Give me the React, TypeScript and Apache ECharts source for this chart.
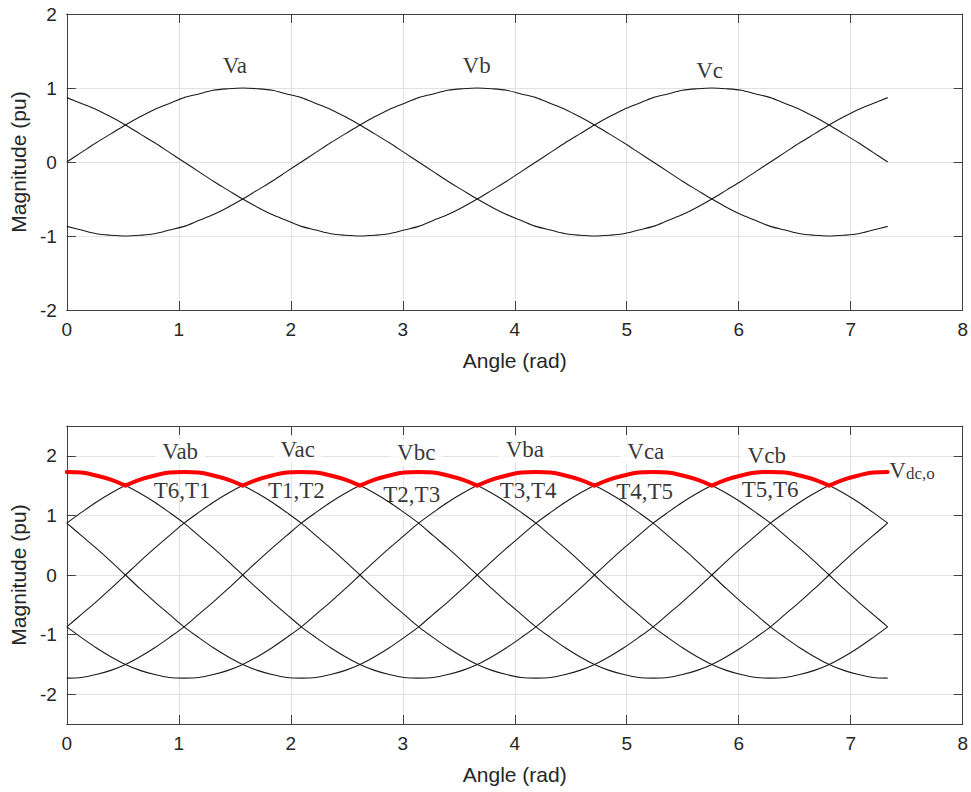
import React, { useEffect, useRef } from "react";
import * as echarts from "echarts";

// Sample angles (rad), read every 7.5 degrees from 0 to 7.33 rad
const angle = [
  0, 0.131, 0.262, 0.393, 0.524, 0.654, 0.785, 0.916, 1.047, 1.178, 1.309, 1.44,
  1.571, 1.702, 1.833, 1.963, 2.094, 2.225, 2.356, 2.487, 2.618, 2.749, 2.88, 3.011,
  3.142, 3.272, 3.403, 3.534, 3.665, 3.796, 3.927, 4.058, 4.189, 4.32, 4.451, 4.581,
  4.712, 4.843, 4.974, 5.105, 5.236, 5.367, 5.498, 5.629, 5.76, 5.89, 6.021, 6.152,
  6.283, 6.414, 6.545, 6.676, 6.807, 6.938, 7.069, 7.199, 7.33,
];

// Phase voltages (top plot)
const va = [
  0, 0.13, 0.26, 0.38, 0.5, 0.61, 0.71, 0.79, 0.87, 0.92, 0.97, 0.99,
  1, 0.99, 0.97, 0.92, 0.87, 0.79, 0.71, 0.61, 0.5, 0.38, 0.26, 0.13,
  0, -0.13, -0.26, -0.38, -0.5, -0.61, -0.71, -0.79, -0.87, -0.92, -0.97, -0.99,
  -1, -0.99, -0.97, -0.92, -0.87, -0.79, -0.71, -0.61, -0.5, -0.38, -0.26, -0.13,
  0, 0.13, 0.26, 0.38, 0.5, 0.61, 0.71, 0.79, 0.87,
];
const vb = [
  -0.87, -0.92, -0.97, -0.99, -1, -0.99, -0.97, -0.92, -0.87, -0.79, -0.71, -0.61,
  -0.5, -0.38, -0.26, -0.13, 0, 0.13, 0.26, 0.38, 0.5, 0.61, 0.71, 0.79,
  0.87, 0.92, 0.97, 0.99, 1, 0.99, 0.97, 0.92, 0.87, 0.79, 0.71, 0.61,
  0.5, 0.38, 0.26, 0.13, 0, -0.13, -0.26, -0.38, -0.5, -0.61, -0.71, -0.79,
  -0.87, -0.92, -0.97, -0.99, -1, -0.99, -0.97, -0.92, -0.87,
];
const vc = [
  0.87, 0.79, 0.71, 0.61, 0.5, 0.38, 0.26, 0.13, 0, -0.13, -0.26, -0.38,
  -0.5, -0.61, -0.71, -0.79, -0.87, -0.92, -0.97, -0.99, -1, -0.99, -0.97, -0.92,
  -0.87, -0.79, -0.71, -0.61, -0.5, -0.38, -0.26, -0.13, 0, 0.13, 0.26, 0.38,
  0.5, 0.61, 0.71, 0.79, 0.87, 0.92, 0.97, 0.99, 1, 0.99, 0.97, 0.92,
  0.87, 0.79, 0.71, 0.61, 0.5, 0.38, 0.26, 0.13, 0,
];

// Line voltages (bottom plot)
const vab = [
  0.87, 1.05, 1.22, 1.37, 1.5, 1.6, 1.67, 1.72, 1.73, 1.72, 1.67, 1.6,
  1.5, 1.37, 1.22, 1.05, 0.87, 0.66, 0.45, 0.23, 0, -0.23, -0.45, -0.66,
  -0.87, -1.05, -1.22, -1.37, -1.5, -1.6, -1.67, -1.72, -1.73, -1.72, -1.67, -1.6,
  -1.5, -1.37, -1.22, -1.05, -0.87, -0.66, -0.45, -0.23, 0, 0.23, 0.45, 0.66,
  0.87, 1.05, 1.22, 1.37, 1.5, 1.6, 1.67, 1.72, 1.73,
];
const vba = [
  -0.87, -1.05, -1.22, -1.37, -1.5, -1.6, -1.67, -1.72, -1.73, -1.72, -1.67, -1.6,
  -1.5, -1.37, -1.22, -1.05, -0.87, -0.66, -0.45, -0.23, 0, 0.23, 0.45, 0.66,
  0.87, 1.05, 1.22, 1.37, 1.5, 1.6, 1.67, 1.72, 1.73, 1.72, 1.67, 1.6,
  1.5, 1.37, 1.22, 1.05, 0.87, 0.66, 0.45, 0.23, 0, -0.23, -0.45, -0.66,
  -0.87, -1.05, -1.22, -1.37, -1.5, -1.6, -1.67, -1.72, -1.73,
];
const vac = [
  -0.87, -0.66, -0.45, -0.23, 0, 0.23, 0.45, 0.66, 0.87, 1.05, 1.22, 1.37,
  1.5, 1.6, 1.67, 1.72, 1.73, 1.72, 1.67, 1.6, 1.5, 1.37, 1.22, 1.05,
  0.87, 0.66, 0.45, 0.23, 0, -0.23, -0.45, -0.66, -0.87, -1.05, -1.22, -1.37,
  -1.5, -1.6, -1.67, -1.72, -1.73, -1.72, -1.67, -1.6, -1.5, -1.37, -1.22, -1.05,
  -0.87, -0.66, -0.45, -0.23, 0, 0.23, 0.45, 0.66, 0.87,
];
const vca = [
  0.87, 0.66, 0.45, 0.23, 0, -0.23, -0.45, -0.66, -0.87, -1.05, -1.22, -1.37,
  -1.5, -1.6, -1.67, -1.72, -1.73, -1.72, -1.67, -1.6, -1.5, -1.37, -1.22, -1.05,
  -0.87, -0.66, -0.45, -0.23, 0, 0.23, 0.45, 0.66, 0.87, 1.05, 1.22, 1.37,
  1.5, 1.6, 1.67, 1.72, 1.73, 1.72, 1.67, 1.6, 1.5, 1.37, 1.22, 1.05,
  0.87, 0.66, 0.45, 0.23, 0, -0.23, -0.45, -0.66, -0.87,
];
const vbc = [
  -1.73, -1.72, -1.67, -1.6, -1.5, -1.37, -1.22, -1.05, -0.87, -0.66, -0.45, -0.23,
  0, 0.23, 0.45, 0.66, 0.87, 1.05, 1.22, 1.37, 1.5, 1.6, 1.67, 1.72,
  1.73, 1.72, 1.67, 1.6, 1.5, 1.37, 1.22, 1.05, 0.87, 0.66, 0.45, 0.23,
  0, -0.23, -0.45, -0.66, -0.87, -1.05, -1.22, -1.37, -1.5, -1.6, -1.67, -1.72,
  -1.73, -1.72, -1.67, -1.6, -1.5, -1.37, -1.22, -1.05, -0.87,
];
const vcb = [
  1.73, 1.72, 1.67, 1.6, 1.5, 1.37, 1.22, 1.05, 0.87, 0.66, 0.45, 0.23,
  0, -0.23, -0.45, -0.66, -0.87, -1.05, -1.22, -1.37, -1.5, -1.6, -1.67, -1.72,
  -1.73, -1.72, -1.67, -1.6, -1.5, -1.37, -1.22, -1.05, -0.87, -0.66, -0.45, -0.23,
  0, 0.23, 0.45, 0.66, 0.87, 1.05, 1.22, 1.37, 1.5, 1.6, 1.67, 1.72,
  1.73, 1.72, 1.67, 1.6, 1.5, 1.37, 1.22, 1.05, 0.87,
];
// DC output envelope (red)
const vdc = [
  1.73, 1.72, 1.67, 1.6, 1.5, 1.6, 1.67, 1.72,
  1.73, 1.72, 1.67, 1.6, 1.5, 1.6, 1.67, 1.72,
  1.73, 1.72, 1.67, 1.6, 1.5, 1.6, 1.67, 1.72,
  1.73, 1.72, 1.67, 1.6, 1.5, 1.6, 1.67, 1.72,
  1.73, 1.72, 1.67, 1.6, 1.5, 1.6, 1.67, 1.72,
  1.73, 1.72, 1.67, 1.6, 1.5, 1.6, 1.67, 1.72,
  1.73, 1.72, 1.67, 1.6, 1.5, 1.6, 1.67, 1.72,
  1.73,
];

// Annotation texts and their data positions
const phaseLabelText = ["Va", "Vb", "Vc"];
const phaseLabelX = [1.5, 3.66, 5.74];
const phaseLabelY = [1.3, 1.3, 1.24];

const lineLabelText = ["Vab", "Vac", "Vbc", "Vba", "Vca", "Vcb"];
const lineLabelX = [1.013, 2.062, 3.12, 4.09, 5.17, 6.25];
const lineLabelY = [2.07, 2.1, 2.05, 2.1, 2.08, 2.0];

const switchLabelText = ["T6,T1", "T1,T2", "T2,T3", "T3,T4", "T4,T5", "T5,T6"];
const switchLabelX = [1.03, 2.05, 3.08, 4.12, 5.16, 6.28];
const switchLabelY = [1.41, 1.41, 1.35, 1.41, 1.4, 1.43];

const dcLabelX = 7.34;
const dcLabelY = 1.76;

const xTicks = { min: 0, max: 8, interval: 1 };

function pairs(ys: number[]) {
  return angle.map((x, i) => [x, ys[i]]);
}

// Envelope: split into arcs at its cusps (local minima) so each arc is smoothed alone
function envelopeArcs(ys: number[]) {
  const out: any[] = [];
  for (let i = 0; i < ys.length; i++) {
    out.push([angle[i], ys[i]]);
    const isCusp = i > 0 && i < ys.length - 1 && ys[i] < ys[i - 1] && ys[i] < ys[i + 1];
    if (isCusp) {
      out.push([angle[i], "-"]);
      out.push([angle[i], ys[i]]);
    }
  }
  return out;
}

const AXIS_COLOR = "#404040";
const TEXT_COLOR = "#262626";
const GRID_COLOR = "#e2e2e2";
const SANS = "Liberation Sans, Arial, sans-serif";
const SERIF = "Liberation Serif, Times New Roman, serif";

function mainX(gridIndex: number) {
  return {
    type: "value",
    gridIndex,
    position: "bottom",
    ...xTicks,
    name: "Angle (rad)",
    nameLocation: "middle",
    nameGap: 40,
    nameTextStyle: { fontFamily: SANS, fontSize: 21, color: TEXT_COLOR },
    axisLine: { show: true, onZero: false, lineStyle: { color: AXIS_COLOR, width: 1 } },
    axisTick: { show: true, inside: true, length: 9, lineStyle: { color: AXIS_COLOR } },
    axisLabel: { fontFamily: SANS, fontSize: 19, color: TEXT_COLOR, margin: 10 },
    splitLine: { show: true, lineStyle: { color: GRID_COLOR, width: 1 } },
  };
}
function topX(gridIndex: number) {
  return {
    type: "value",
    gridIndex,
    position: "top",
    ...xTicks,
    axisLine: { show: true, onZero: false, lineStyle: { color: AXIS_COLOR, width: 1 } },
    axisTick: { show: true, inside: true, length: 9, lineStyle: { color: AXIS_COLOR } },
    axisLabel: { show: false },
    splitLine: { show: false },
  };
}
function mainY(gridIndex: number, range: any) {
  return {
    type: "value",
    gridIndex,
    position: "left",
    ...range,
    name: "Magnitude (pu)",
    nameLocation: "middle",
    nameGap: 35,
    nameTextStyle: { fontFamily: SANS, fontSize: 21, color: TEXT_COLOR },
    axisLine: { show: true, onZero: false, lineStyle: { color: AXIS_COLOR, width: 1 } },
    axisTick: { show: true, inside: true, length: 9, lineStyle: { color: AXIS_COLOR } },
    axisLabel: {
      fontFamily: SANS,
      fontSize: 19,
      color: TEXT_COLOR,
      margin: 10,
      formatter: (v: number) => (Number.isInteger(v) ? String(v) : ""),
    },
    splitLine: { show: true, lineStyle: { color: GRID_COLOR, width: 1 } },
  };
}
function rightY(gridIndex: number, range: any) {
  return {
    type: "value",
    gridIndex,
    position: "right",
    ...range,
    axisLine: { show: true, onZero: false, lineStyle: { color: AXIS_COLOR, width: 1 } },
    axisTick: { show: true, inside: true, length: 9, lineStyle: { color: AXIS_COLOR } },
    axisLabel: { show: false },
    splitLine: { show: false },
  };
}

function curve(ys: number[], xi: number, yi: number) {
  return {
    type: "line",
    xAxisIndex: xi,
    yAxisIndex: yi,
    data: pairs(ys),
    symbol: "none",
    smooth: 0.3,
    silent: true,
    z: 2,
    lineStyle: { color: "#1a1a1a", width: 1.1 },
  };
}

function textSeries(
  texts: string[],
  xs: number[],
  ys: number[],
  xi: number,
  yi: number,
  withBg: boolean
) {
  return {
    type: "scatter",
    xAxisIndex: xi,
    yAxisIndex: yi,
    symbolSize: 1,
    silent: true,
    z: 10,
    itemStyle: { color: "rgba(0,0,0,0)" },
    data: texts.map((t, i) => ({ name: t, value: [xs[i], ys[i]] })),
    label: {
      show: true,
      position: "inside",
      formatter: "{b}",
      fontFamily: SERIF,
      fontSize: 23,
      color: "#000",
      backgroundColor: withBg ? "#fff" : "transparent",
      padding: [1, 7],
    },
  };
}

export default function App() {
  const ref = useRef<HTMLDivElement>(null);
  useEffect(() => {
    if (!ref.current) return;
    const chart = echarts.init(ref.current, null, { renderer: "svg" });
    const topRange = { min: -2, max: 2, interval: 1 };
    const botRange = { min: -2.5, max: 2.5, splitNumber: 5 };
    const option: any = {
      animation: false,
      backgroundColor: "#fff",
      grid: [
        { left: 64, top: 14, width: 900, height: 296, containLabel: false },
        { left: 64, top: 426, width: 900, height: 298, containLabel: false },
      ],
      xAxis: [mainX(0), topX(0), mainX(1), topX(1)],
      yAxis: [mainY(0, topRange), rightY(0, topRange), mainY(1, botRange), rightY(1, botRange)],
      series: [
        curve(va, 0, 0),
        curve(vb, 0, 0),
        curve(vc, 0, 0),
        curve(vab, 2, 2),
        curve(vba, 2, 2),
        curve(vac, 2, 2),
        curve(vca, 2, 2),
        curve(vbc, 2, 2),
        curve(vcb, 2, 2),
        {
          type: "line",
          xAxisIndex: 2,
          yAxisIndex: 2,
          data: envelopeArcs(vdc),
          symbol: "none",
          smooth: 0.4,
          connectNulls: false,
          silent: true,
          z: 5,
          lineStyle: { color: "#ff0000", width: 4, cap: "round", join: "round" },
        },
        textSeries(phaseLabelText, phaseLabelX, phaseLabelY, 0, 0, true),
        textSeries(lineLabelText, lineLabelX, lineLabelY, 2, 2, true),
        textSeries(switchLabelText, switchLabelX, switchLabelY, 2, 2, false),
        {
          type: "scatter",
          xAxisIndex: 2,
          yAxisIndex: 2,
          symbolSize: 1,
          silent: true,
          z: 10,
          itemStyle: { color: "rgba(0,0,0,0)" },
          data: [{ name: "Vdc,o", value: [dcLabelX, dcLabelY] }],
          label: {
            show: true,
            position: "right",
            distance: 0,
            formatter: "{v|V}{s|dc,o}",
            rich: {
              v: { fontFamily: SERIF, fontSize: 23, color: "#000", lineHeight: 23, verticalAlign: "bottom" },
              s: { fontFamily: SERIF, fontSize: 17, color: "#000", lineHeight: 23, verticalAlign: "bottom" },
            },
          },
        },
      ],
    };
    chart.setOption(option);
    return () => chart.dispose();
  }, []);
  return (
    <div
      ref={ref}
      style={{ position: "fixed", left: 0, top: 0, width: 971, height: 792, background: "#fff" }}
    />
  );
}
